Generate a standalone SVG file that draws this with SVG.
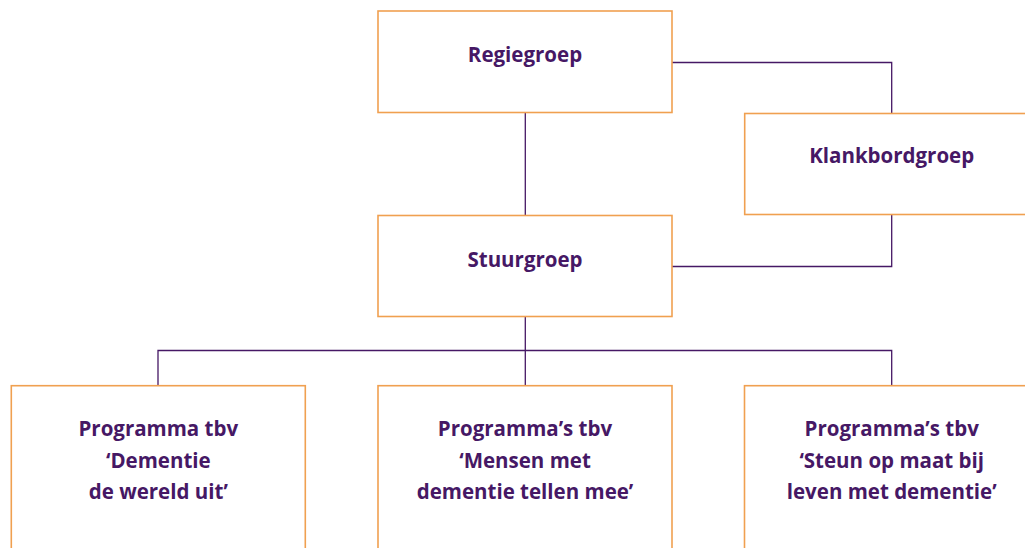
<svg xmlns="http://www.w3.org/2000/svg" width="1025" height="548" viewBox="0 0 1025 548">
<style>
.box{fill:#fff;stroke:#f0a050;stroke-width:1.6}
.lbl{font-family:"Open Sans","Noto Sans",sans-serif;font-weight:700;font-size:20.5px;fill:#461865;text-anchor:middle}
.con{fill:none;stroke:#461865;stroke-width:1.3}
</style>
<rect width="1025" height="548" fill="#fff"/>
<g id="connectors">
<path class="con" d="M672 62.5H891.7V113.5"/>
<path class="con" d="M891.7 214.5V266.5H672"/>
<path class="con" d="M525.3 112.5V215.5"/>
<path class="con" d="M525.3 316.5V385.5"/>
<path class="con" d="M158 385.5V350.5H891.7V385.5"/>
</g>
<g id="regiegroep">
<rect class="box" x="378" y="11" width="294" height="101.5"/>
<text class="lbl" x="525" y="62">Regiegroep</text>
</g>
<g id="klankbordgroep">
<rect class="box" x="744.7" y="113.5" width="290" height="101"/>
<text class="lbl" x="891.7" y="163">Klankbordgroep</text>
</g>
<g id="stuurgroep">
<rect class="box" x="378" y="215.5" width="294" height="101"/>
<text class="lbl" x="525" y="266.5">Stuurgroep</text>
</g>
<g id="programma1">
<rect class="box" x="11.3" y="385.7" width="294" height="180"/>
<text class="lbl" x="158.3"><tspan x="158.3" y="436">Programma tbv</tspan><tspan x="158.3" y="467.8">‘Dementie</tspan><tspan x="158.3" y="499.4">de wereld uit’</tspan></text>
</g>
<g id="programma2">
<rect class="box" x="378" y="385.7" width="294" height="180"/>
<text class="lbl" x="525"><tspan x="525" y="436">Programma’s tbv</tspan><tspan x="525" y="467.8">‘Mensen met</tspan><tspan x="525" y="499.4">dementie tellen mee’</tspan></text>
</g>
<g id="programma3">
<rect class="box" x="744.5" y="385.7" width="294" height="180"/>
<text class="lbl" x="891.7"><tspan x="891.7" y="436">Programma’s tbv</tspan><tspan x="891.7" y="467.8">‘Steun op maat bij</tspan><tspan x="891.7" y="499.4">leven met dementie’</tspan></text>
</g>
</svg>
